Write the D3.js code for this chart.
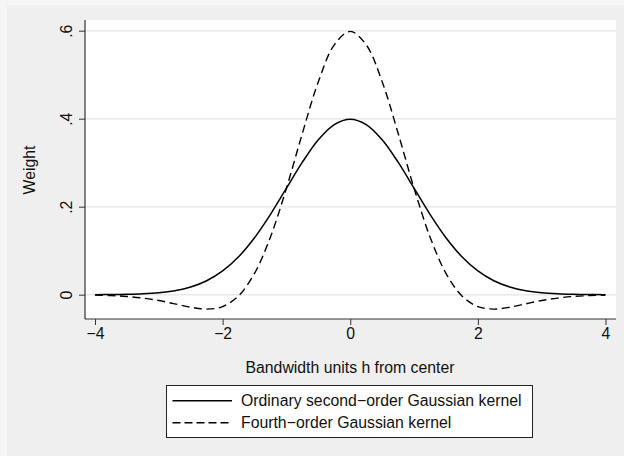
<!DOCTYPE html>
<html>
<head>
<meta charset="utf-8">
<script src="https://cdn.jsdelivr.net/npm/d3@7"></script>
<style>
  html, body { margin: 0; padding: 0; background: #f7f7f7; }
  svg { display: block; font-family: "Liberation Sans", Arial, sans-serif; }
</style>
</head>
<body>
<svg id="chart" width="624" height="456"></svg>
<script>
// Data (bandwidth units h from center)
const xValues = [-4, -3.75, -3.5, -3.25, -3, -2.75, -2.5, -2.25, -2, -1.75, -1.5, -1.25, -1, -0.75, -0.5, -0.25,
                 0, 0.25, 0.5, 0.75, 1, 1.25, 1.5, 1.75, 2, 2.25, 2.5, 2.75, 3, 3.25, 3.5, 3.75, 4];
const secondOrder = [0.00013, 0.00035, 0.00087, 0.00203, 0.00443, 0.00909, 0.01753, 0.03174, 0.05399, 0.08628,
                     0.12952, 0.18265, 0.24197, 0.30114, 0.35207, 0.38667, 0.39894, 0.38667, 0.35207, 0.30114,
                     0.24197, 0.18265, 0.12952, 0.08628, 0.05399, 0.03174, 0.01753, 0.00909, 0.00443, 0.00203,
                     0.00087, 0.00035, 0.00013];
const fourthOrder = [-0.00087, -0.00194, -0.00402, -0.00768, -0.01329, -0.02074, -0.02849, -0.03273, -0.02700, -0.00270,
                     0.04857, 0.13128, 0.24197, 0.36701, 0.48410, 0.56792, 0.59841, 0.56792, 0.48410, 0.36701,
                     0.24197, 0.13128, 0.04857, -0.00270, -0.02700, -0.03273, -0.02849, -0.02074, -0.01329, -0.00768,
                     -0.00402, -0.00194, -0.00087];
const xTicks = [-4, -2, 0, 2, 4];
const xTickLabels = ["\u22124", "\u22122", "0", "2", "4"];
const yTicks = [0, 0.2, 0.4, 0.6];
const yTickLabels = ["0", ".2", ".4", ".6"];
const seriesNames = ["Ordinary second\u2212order Gaussian kernel", "Fourth\u2212order Gaussian kernel"];
const xTitle = "Bandwidth units h from center";
const yTitle = "Weight";

const svg = d3.select("#chart");
const FS = 15.8;

// backgrounds
svg.append("rect").attr("x", 0).attr("y", 0).attr("width", 624).attr("height", 456).attr("fill", "#f5f5f5");
svg.append("rect").attr("x", 7).attr("y", 5).attr("width", 617).attr("height", 451).attr("fill", "#efefef");

const plot = { left: 85, right: 616, top: 20, bottom: 319 };
svg.append("rect").attr("x", plot.left).attr("y", plot.top)
  .attr("width", plot.right - plot.left).attr("height", plot.bottom - plot.top).attr("fill", "#ffffff");

const x = d3.scaleLinear().domain([-4, 4]).range([95, 605.5]);
const y = d3.scaleLinear().domain([0, 0.6]).range([294.7, 30.7]);

// gridlines
svg.append("g").selectAll("line").data(yTicks).join("line")
  .attr("x1", plot.left).attr("x2", plot.right)
  .attr("y1", d => y(d)).attr("y2", d => y(d))
  .attr("stroke", "#e8e8e8").attr("stroke-width", 1.6);

// axes
const xAxis = d3.axisBottom(x).tickValues(xTicks).tickSize(6).tickSizeOuter(0)
  .tickFormat((d, i) => xTickLabels[i]);
const gx = svg.append("g").attr("transform", `translate(0,${plot.bottom})`).call(xAxis);
gx.select(".domain").attr("d", `M${plot.left},0H${plot.right}`).attr("stroke", "#333").attr("stroke-width", 1.2);
gx.selectAll(".tick line").attr("stroke", "#333");
gx.selectAll(".tick text").attr("font-size", FS).attr("font-family", "Liberation Sans, Arial, sans-serif")
  .attr("fill", "#111").attr("y", 9).attr("dy", "0.71em");

const yAxis = d3.axisLeft(y).tickValues(yTicks).tickSize(6).tickSizeOuter(0)
  .tickFormat((d, i) => yTickLabels[i]);
const gy = svg.append("g").attr("transform", `translate(${plot.left},0)`).call(yAxis);
gy.select(".domain").attr("d", `M0,${plot.top}V${plot.bottom}`).attr("stroke", "#333").attr("stroke-width", 1.2);
gy.selectAll(".tick line").attr("stroke", "#333");
gy.selectAll(".tick text")
  .attr("font-size", FS).attr("font-family", "Liberation Sans, Arial, sans-serif").attr("fill", "#111")
  .attr("x", null).attr("dy", null)
  .attr("text-anchor", "middle")
  .attr("transform", "translate(-13,0) rotate(-90)");

// titles
svg.append("text").attr("x", 350).attr("y", 373).attr("text-anchor", "middle")
  .attr("font-size", FS).attr("fill", "#111").text(xTitle);
svg.append("text").attr("transform", "translate(35,170) rotate(-90)").attr("text-anchor", "middle")
  .attr("font-size", FS).attr("fill", "#111").text(yTitle);

// curves
const idx = d3.range(xValues.length);
const line = (vals) => d3.line().x(i => x(xValues[i])).y(i => y(vals[i])).curve(d3.curveCatmullRom)(idx);
svg.append("path").attr("d", line(secondOrder)).attr("fill", "none")
  .attr("stroke", "#000").attr("stroke-width", 1.5);
svg.append("path").attr("d", line(fourthOrder)).attr("fill", "none")
  .attr("stroke", "#000").attr("stroke-width", 1.4).attr("stroke-dasharray", "8,4.5");

// legend
const lg = svg.append("g");
lg.append("rect").attr("x", 166.5).attr("y", 385.5).attr("width", 366).attr("height", 52)
  .attr("fill", "#fff").attr("stroke", "#222").attr("stroke-width", 1);
const rows = [{ y: 400.7, dash: null }, { y: 422.7, dash: "8,4" }];
rows.forEach((r, i) => {
  lg.append("line").attr("x1", 172.5).attr("x2", 232).attr("y1", r.y).attr("y2", r.y)
    .attr("stroke", "#000").attr("stroke-width", 1.4).attr("stroke-dasharray", r.dash);
  lg.append("text").attr("x", 241).attr("y", r.y + 5.6).attr("font-size", FS).attr("fill", "#111")
    .text(seriesNames[i]);
});
</script>
</body>
</html>
